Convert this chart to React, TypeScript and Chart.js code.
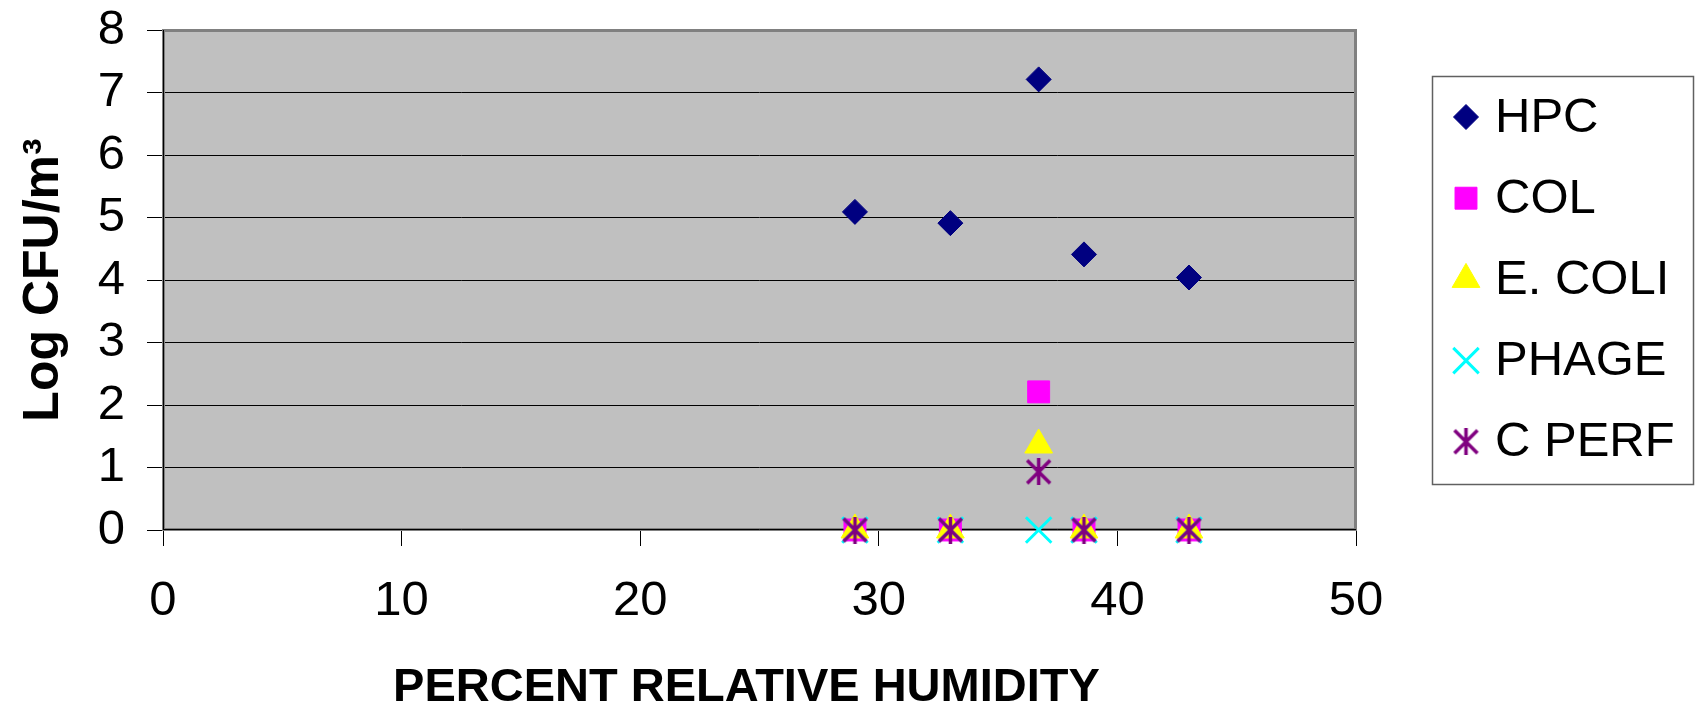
import React, { useEffect, useRef } from 'react';
import { Chart, registerables } from 'chart.js';
import { drawPoint } from 'chart.js/helpers';

Chart.register(...registerables);

// ---- data ----
const humidity = [29, 33, 36.7, 38.6, 43];
const hpc = [5.09, 4.91, 7.21, 4.41, 4.04];
const col = [0, 0, 2.21, 0, 0];
const ecoli = [0, 0, 1.36, 0, 0];
const phage = [0, 0, 0, 0, 0];
const cperf = [0, 0, 0.93, 0, 0];
const seriesLabels = ['HPC', 'COL', 'E. COLI', 'PHAGE', 'C PERF'];
const xTitle = 'PERCENT RELATIVE HUMIDITY  ';
const yTitle = 'Log CFU/m³';

const FONT = '"Liberation Sans", Arial, Helvetica, sans-serif';

function makeAsterisk(color: string): HTMLCanvasElement {
  const size = 27;
  const c = document.createElement('canvas');
  c.width = size;
  c.height = size;
  const g = c.getContext('2d')!;
  g.strokeStyle = color;
  g.lineWidth = 3.5;
  g.lineCap = 'butt';
  const h = size / 2;
  const m = 2;
  g.beginPath();
  g.moveTo(h, 0);
  g.lineTo(h, size);
  g.moveTo(m, m);
  g.lineTo(size - m, size - m);
  g.moveTo(size - m, m);
  g.lineTo(m, size - m);
  g.stroke();
  return c;
}

const pts = (ys: number[]) => humidity.map((x, i) => ({ x, y: ys[i] }));

export default function App() {
  const ref = useRef<HTMLCanvasElement>(null);

  useEffect(() => {
    const canvas = ref.current!;
    const asterisk = makeAsterisk('#800080');

    const bgPlugin = {
      id: 'plotBg',
      beforeDraw(chart: any) {
        const { ctx, chartArea: a } = chart;
        ctx.save();
        ctx.fillStyle = '#ffffff';
        ctx.fillRect(0, 0, chart.width, chart.height);
        ctx.fillStyle = '#C0C0C0';
        ctx.fillRect(a.left, a.top, a.right - a.left, a.bottom - a.top);
        ctx.restore();
      },
      beforeDatasetsDraw(chart: any) {
        const { ctx, chartArea: a } = chart;
        ctx.save();
        ctx.strokeStyle = '#808080';
        ctx.lineWidth = 3;
        ctx.strokeRect(a.left + 0.5, a.top + 0.5, a.right - a.left - 1, a.bottom - a.top - 1);
        ctx.strokeStyle = '#000000';
        ctx.lineWidth = 1;
        ctx.beginPath();
        ctx.moveTo(a.left + 0.5, a.top);
        ctx.lineTo(a.left + 0.5, a.bottom);
        ctx.moveTo(a.left, a.bottom - 0.5);
        ctx.lineTo(a.right, a.bottom - 0.5);
        ctx.stroke();
        ctx.restore();
      },
      afterDraw(chart: any) {
        const { ctx } = chart;
        ctx.save();
        const lx = 1432, ly = 76, lw = 261, lh = 408;
        ctx.strokeStyle = '#606060';
        ctx.lineWidth = 1.5;
        ctx.strokeRect(lx + 0.5, ly + 0.5, lw, lh);
        chart.data.datasets.forEach((ds: any, i: number) => {
          const y = 117 + i * 81.2;
          ctx.save();
          ctx.fillStyle = ds.backgroundColor;
          ctx.strokeStyle = ds.borderColor;
          ctx.lineWidth = ds.borderWidth;
          drawPoint(ctx, { pointStyle: ds.pointStyle, radius: ds.pointRadius, borderWidth: ds.borderWidth, rotation: 0 } as any, 1466, y);
          ctx.restore();
          ctx.fillStyle = '#000000';
          ctx.font = `49px ${FONT}`;
          ctx.textBaseline = 'middle';
          ctx.textAlign = 'left';
          ctx.fillText(ds.label, 1495, y + 1);
        });
        ctx.restore();
      },
    };

    const chart = new Chart(canvas, {
      type: 'scatter',
      data: {
        datasets: [
          { label: seriesLabels[0], data: pts(hpc), pointStyle: 'rectRot', pointRadius: 12.5, backgroundColor: '#000080', borderColor: '#000080', borderWidth: 1, order: 5, clip: false },
          { label: seriesLabels[1], data: pts(col), pointStyle: 'rect', pointRadius: 15.5, backgroundColor: '#FF00FF', borderColor: '#FF00FF', borderWidth: 1, order: 4, clip: false },
          { label: seriesLabels[2], data: pts(ecoli), pointStyle: 'triangle', pointRadius: 16, backgroundColor: '#FFFF00', borderColor: '#FFFF00', borderWidth: 1, order: 3, clip: false },
          { label: seriesLabels[3], data: pts(phage), pointStyle: 'crossRot', pointRadius: 18, backgroundColor: '#00FFFF', borderColor: '#00FFFF', borderWidth: 3, order: 2, clip: false },
          { label: seriesLabels[4], data: pts(cperf), pointStyle: asterisk as any, pointRadius: 13, backgroundColor: '#800080', borderColor: '#800080', borderWidth: 3, order: 1, clip: false },
        ] as any,
      },
      options: {
        animation: false,
        responsive: false,
        devicePixelRatio: 1,
        layout: { padding: { left: 0, top: 30, right: 342, bottom: 0 } },
        plugins: {
          legend: { display: false },
          tooltip: { enabled: false },
        },
        scales: {
          x: {
            type: 'linear',
            min: 0,
            max: 50,
            ticks: { stepSize: 10, autoSkip: false, maxRotation: 0, color: '#000', padding: 26, font: { family: FONT, size: 49 } },
            grid: { drawOnChartArea: false, drawTicks: true, tickLength: 16, color: '#000', lineWidth: 1 },
            border: { display: false },
            title: { display: true, text: xTitle, color: '#000', padding: { top: 0, bottom: 0 }, font: { family: FONT, size: 47, weight: 'bold', lineHeight: 1 } },
            afterFit(scale: any) { scale.height = 182; scale.paddingLeft = 0; scale.paddingRight = 0; },
          },
          y: {
            type: 'linear',
            min: 0,
            max: 8,
            ticks: { stepSize: 1, autoSkip: false, color: '#000', padding: 22, font: { family: FONT, size: 49 } },
            grid: { drawOnChartArea: true, drawTicks: true, tickLength: 16, color: '#000', lineWidth: 1 },
            border: { display: false },
            title: { display: true, text: yTitle, color: '#000', padding: { top: 19, bottom: 0 }, font: { family: FONT, size: 50, weight: 'bold', lineHeight: 1 } },
            afterFit(scale: any) { scale.width = 163; scale.paddingTop = 0; scale.paddingBottom = 0; },
          },
        },
      } as any,
      plugins: [bgPlugin],
    });

    return () => chart.destroy();
  }, []);

  return (
    <div style={{ position: 'fixed', left: 0, top: 0, width: 1698, height: 712, background: '#fff' }}>
      <canvas ref={ref} width={1698} height={712} style={{ display: 'block', width: 1698, height: 712 }} />
    </div>
  );
}
